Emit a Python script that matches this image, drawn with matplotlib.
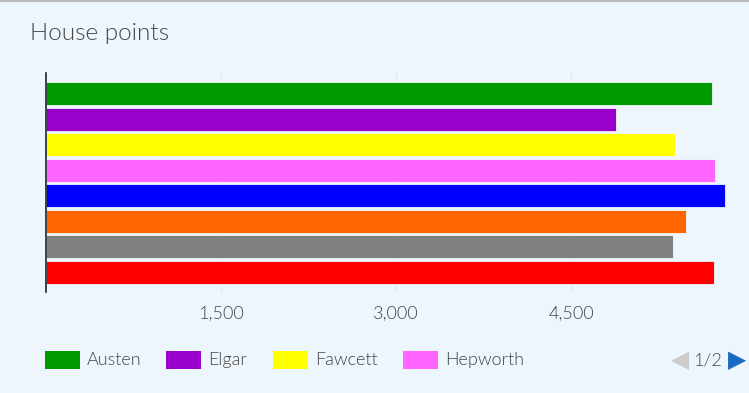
import matplotlib
matplotlib.use("Agg")
import matplotlib.pyplot as plt
from matplotlib import font_manager as fm
from matplotlib.patches import Rectangle
from matplotlib.lines import Line2D

houses = ["Austen", "Elgar", "Fawcett", "Hepworth", "Johnson", "Lowry", "Nightingale", "Turing"]
points = [5710, 4886, 5391, 5734, 5820, 5486, 5374, 5726]
colors = ["#009900", "#9900CC", "#FFFF00", "#FF66FF", "#0000FF", "#FF6600", "#808080", "#FF0000"]
ticks = [1500, 3000, 4500]
tick_labels = ["1,500", "3,000", "4,500"]

BG = "#EEF6FD"
W, H = 749, 393

plt.rcParams["font.family"] = ["Lato", "DejaVu Sans"]
light_file = [f.fname for f in fm.fontManager.ttflist if f.fname.endswith("Lato-Light.ttf")]
def lfont(size):
    if light_file:
        return fm.FontProperties(fname=light_file[0], size=size)
    return fm.FontProperties(family="Lato", weight="light", size=size)

fig = plt.figure(figsize=(W / 100, H / 100), dpi=100, facecolor=BG)
ax = fig.add_axes([46 / W, 1 - 292 / H, 700 / W, 219 / H])
ax.set_facecolor(BG)

for i, (name, val, c) in enumerate(zip(houses, points, colors)):
    ax.barh(i, val, height=0.9, color=c, edgecolor=BG, linewidth=0.6, zorder=3)

ax.set_xlim(0, 6000)
ax.set_ylim(7.77, -0.81)
ax.set_xticks(ticks)
ax.set_xticklabels(tick_labels)
ax.set_yticks([])
for t in ticks + [6000]:
    ax.axvline(t, color="#E1EAF3", linewidth=1, zorder=1)
for s in ["top", "right", "bottom"]:
    ax.spines[s].set_visible(False)
ax.spines["left"].set_color("#222222")
ax.spines["left"].set_linewidth(1.2)
ax.spines["left"].set_zorder(5)
ax.tick_params(axis="x", length=0, pad=10, labelcolor="#444444")
for lbl in ax.get_xticklabels():
    lbl.set_fontproperties(lfont(13))

fig.text(30 / W, 1 - 33 / H, "House points", fontproperties=lfont(17.5), color="#444444",
         va="center", ha="left")

# legend, first page only
leg_x = [45, 166, 273, 403]
for x, name, c in zip(leg_x, houses[:4], colors[:4]):
    fig.patches.append(Rectangle((x / W, 1 - 369 / H), 35 / W, 18 / H, transform=fig.transFigure,
                                 facecolor=c, edgecolor="none"))
    fig.text((x + 42) / W, 1 - 360 / H, name, fontproperties=lfont(13), color="#444444",
             va="center", ha="left")

fig.text(680 / W, 1 - 360 / H, "\u25C0", fontsize=17, color="#CCCCCC", va="center", ha="center",
         family="DejaVu Sans")
fig.text(708 / W, 1 - 360 / H, "1/2", fontproperties=lfont(13), color="#444444",
         va="center", ha="center")
fig.text(737 / W, 1 - 360 / H, "\u25B6", fontsize=17, color="#1A6BC4", va="center", ha="center",
         family="DejaVu Sans")

fig.add_artist(Line2D([0, 1], [1 - 0.5 / H, 1 - 0.5 / H], transform=fig.transFigure,
                      color="#BBBBBB", linewidth=1.5))

fig.savefig("out.png", dpi=100, facecolor=BG)
